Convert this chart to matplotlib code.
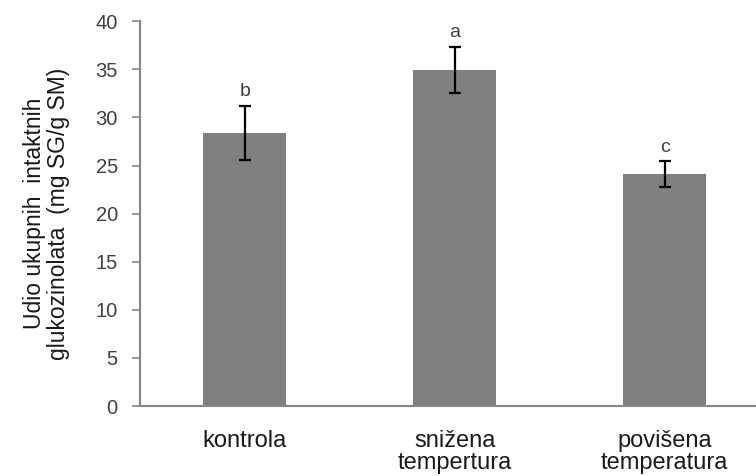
import matplotlib
matplotlib.use("Agg")
import matplotlib.pyplot as plt

plt.rcParams['font.family'] = ['Liberation Sans', 'DejaVu Sans']

categories = ['kontrola', 'snižena\ntempertura', 'povišena\ntemperatura']
values = [28.4, 34.95, 24.1]
errors = [2.8, 2.4, 1.35]
letters = ['b', 'a', 'c']

axis_col = '#868686'
text_col = '#404040'

fig = plt.figure(figsize=(7.56, 4.76), dpi=100)
ax = fig.add_axes([0.1852, 0.147, 0.8328, 0.8083])

x = range(len(categories))
ax.bar(x, values, width=0.395, color='#808080', zorder=2)
ax.errorbar(x, values, yerr=errors, fmt='none', ecolor='black',
            elinewidth=1.6, capsize=4.5, capthick=1.6, zorder=3)

for xi, v, e, lab in zip(x, values, errors, letters):
    ax.text(xi, v + e + 1.0, lab, ha='center', va='baseline',
            fontsize=14, color=text_col)

ax.set_xlim(-0.5, 2.5)
ax.set_ylim(0, 40)
ax.set_yticks(range(0, 41, 5))
ax.set_xticks(list(x))
ax.set_xticklabels(categories, fontsize=17, color='#1a1a1a', linespacing=1.0)
ax.tick_params(axis='x', length=0, pad=17)
ax.tick_params(axis='y', direction='out', length=6, width=1.2,
               color=axis_col, labelsize=14.5, labelcolor=text_col, pad=10)

for side in ['top', 'right']:
    ax.spines[side].set_visible(False)
for side in ['left', 'bottom']:
    ax.spines[side].set_color(axis_col)
    ax.spines[side].set_linewidth(1.5)

ax.set_ylabel('Udio ukupnih  intaktnih\nglukozinolata  (mg SG/g SM)',
              fontsize=16.5, color='#1a1a1a', labelpad=18, linespacing=1.09)

fig.savefig('out.png', dpi=100)
